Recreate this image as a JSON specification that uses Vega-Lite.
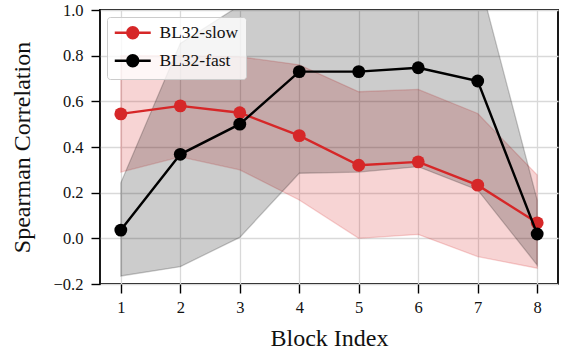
{
  "$schema": "https://vega.github.io/schema/vega-lite/v6.json",
  "width": 458,
  "height": 274,
  "autosize": {"type": "none"},
  "padding": {"left": 100, "top": 10, "right": 5, "bottom": 67},
  "background": "white",
  "data": {
    "values": [
      {"block": 1, "series": "BL32-slow", "mean": 0.545, "lo": 0.29, "hi": 0.80},
      {"block": 2, "series": "BL32-slow", "mean": 0.58, "lo": 0.357, "hi": 0.80},
      {"block": 3, "series": "BL32-slow", "mean": 0.55, "lo": 0.30, "hi": 0.795},
      {"block": 4, "series": "BL32-slow", "mean": 0.45, "lo": 0.168, "hi": 0.76},
      {"block": 5, "series": "BL32-slow", "mean": 0.32, "lo": 0.0, "hi": 0.642},
      {"block": 6, "series": "BL32-slow", "mean": 0.335, "lo": 0.017, "hi": 0.652},
      {"block": 7, "series": "BL32-slow", "mean": 0.233, "lo": -0.08, "hi": 0.547},
      {"block": 8, "series": "BL32-slow", "mean": 0.068, "lo": -0.131, "hi": 0.277},
      {"block": 1, "series": "BL32-fast", "mean": 0.036, "lo": -0.165, "hi": 0.243},
      {"block": 2, "series": "BL32-fast", "mean": 0.368, "lo": -0.124, "hi": 0.854},
      {"block": 3, "series": "BL32-fast", "mean": 0.50, "lo": 0.004, "hi": 1.02},
      {"block": 4, "series": "BL32-fast", "mean": 0.73, "lo": 0.285, "hi": 1.15},
      {"block": 5, "series": "BL32-fast", "mean": 0.73, "lo": 0.29, "hi": 1.15},
      {"block": 6, "series": "BL32-fast", "mean": 0.747, "lo": 0.314, "hi": 1.15},
      {"block": 7, "series": "BL32-fast", "mean": 0.689, "lo": 0.212, "hi": 1.16},
      {"block": 8, "series": "BL32-fast", "mean": 0.019, "lo": -0.117, "hi": 0.168}
    ]
  },
  "encoding": {
    "x": {
      "field": "block", "type": "quantitative",
      "scale": {"domain": [0.65, 8.35], "nice": false, "zero": false},
      "axis": {"values": [1, 2, 3, 4, 5, 6, 7, 8], "format": "d", "title": "Block Index"}
    }
  },
  "layer": [
    {
      "mark": {"type": "area", "fillOpacity": 0.2, "strokeOpacity": 0.2, "strokeWidth": 1.3, "clip": true},
      "encoding": {
        "y": {
          "field": "lo", "type": "quantitative",
          "scale": {"domain": [-0.2, 1.0], "nice": false, "zero": false},
          "axis": {"values": [-0.2, 0, 0.2, 0.4, 0.6, 0.8, 1.0], "format": ".1f", "title": "Spearman Correlation"}
        },
        "y2": {"field": "hi"},
        "color": {"field": "series", "type": "nominal", "scale": {"domain": ["BL32-slow", "BL32-fast"], "range": ["#d62728", "#000000"]}},
        "stroke": {"field": "series", "type": "nominal", "scale": {"domain": ["BL32-slow", "BL32-fast"], "range": ["#d62728", "#000000"]}, "legend": null}
      }
    },
    {
      "transform": [{"filter": "datum.series === 'BL32-slow'"}],
      "mark": {"type": "line", "strokeWidth": 2.4, "clip": true},
      "encoding": {
        "y": {"field": "mean", "type": "quantitative"},
        "color": {"field": "series", "type": "nominal"}
      }
    },
    {
      "transform": [{"filter": "datum.series === 'BL32-slow'"}],
      "mark": {"type": "point", "filled": true, "size": 165, "opacity": 1, "shape": "circle"},
      "encoding": {
        "y": {"field": "mean", "type": "quantitative"},
        "color": {"field": "series", "type": "nominal"}
      }
    },
    {
      "transform": [{"filter": "datum.series === 'BL32-fast'"}],
      "mark": {"type": "line", "strokeWidth": 2.4, "clip": true},
      "encoding": {
        "y": {"field": "mean", "type": "quantitative"},
        "color": {"field": "series", "type": "nominal"}
      }
    },
    {
      "transform": [{"filter": "datum.series === 'BL32-fast'"}],
      "mark": {"type": "point", "filled": true, "size": 165, "opacity": 1, "shape": "circle"},
      "encoding": {
        "y": {"field": "mean", "type": "quantitative"},
        "color": {
          "field": "series", "type": "nominal",
          "legend": {
            "title": null,
            "encode": {"symbols": {"update": {"stroke": {"scale": "color", "field": "value"}, "strokeWidth": {"value": 2.4}}}}
          }
        }
      }
    }
  ],
  "config": {
    "view": {"stroke": "#000000", "strokeWidth": 1.8},
    "axis": {
      "domain": false,
      "grid": true,
      "gridColor": "#d9d9d9",
      "gridWidth": 1.3,
      "ticks": true,
      "tickColor": "#000000",
      "tickSize": 9,
      "tickWidth": 1.4,
      "labelFont": "Liberation Serif",
      "labelFontSize": 16.5,
      "labelColor": "#111111",
      "titleFont": "Liberation Serif",
      "titleFontSize": 24,
      "titleFontWeight": "normal",
      "titleColor": "#111111"
    },
    "axisX": {"labelPadding": 6, "titlePadding": 11},
    "axisY": {"labelPadding": 8, "titlePadding": 19},
    "legend": {
      "orient": "none",
      "legendX": 7,
      "legendY": 7,
      "fillColor": "rgba(255,255,255,0.8)",
      "strokeColor": "#cccccc",
      "cornerRadius": 3,
      "padding": 7,
      "rowPadding": 6,
      "labelFont": "Liberation Serif",
      "labelFontSize": 17.5,
      "labelColor": "#111111",
      "symbolType": "M-3.27,0L3.27,0M1,0A1,1 0 1,1 -1,0A1,1 0 1,1 1,0Z",
      "symbolSize": 121,
      "symbolStrokeWidth": 2.4,
      "symbolOffset": 10,
      "labelOffset": 18
    }
  }
}
